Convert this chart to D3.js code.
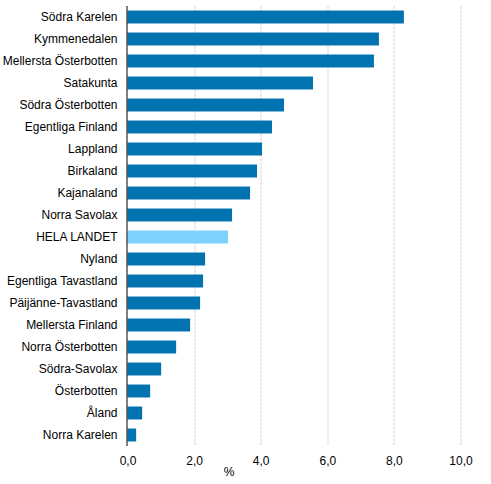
<!DOCTYPE html>
<html>
<head>
<meta charset="utf-8">
<script src="https://cdn.jsdelivr.net/npm/d3@7"></script>
<style>
  body { margin: 0; background: #fff; }
  text { font-family: "Liberation Sans", Arial, sans-serif; fill: #000; }
</style>
</head>
<body>
<svg id="chart" width="491" height="484"></svg>
<script>
// regions, top to bottom
var regions = [
    "Södra Karelen", "Kymmenedalen", "Mellersta Österbotten", "Satakunta",
    "Södra Österbotten", "Egentliga Finland", "Lappland", "Birkaland",
    "Kajanaland", "Norra Savolax", "HELA LANDET", "Nyland",
    "Egentliga Tavastland", "Päijänne-Tavastland", "Mellersta Finland",
    "Norra Österbotten", "Södra-Savolax", "Österbotten", "Åland", "Norra Karelen"
];
// share in %
var values = [
    8.3, 7.55, 7.4, 5.57, 4.7, 4.34, 4.04, 3.89, 3.68, 3.14,
    3.02, 2.33, 2.27, 2.18, 1.88, 1.46, 1.01, 0.68, 0.44, 0.26
];
var xTicks = [0, 2, 4, 6, 8, 10];
var wholeCountry = "HELA LANDET";

var svg = d3.select("#chart");
var margin = {left: 127.5, right: 30.5, top: 6, bottom: 38};
var width = 491 - margin.left - margin.right;
var height = 484 - margin.top - margin.bottom;

var x = d3.scaleLinear().domain([0, 10]).range([0, width]);
var y = d3.scaleBand().domain(regions).range([0, height]).paddingInner(0.41).paddingOuter(0.205);

var g = svg.append("g").attr("transform", "translate(" + margin.left + "," + margin.top + ")");

// gridlines
g.selectAll("line.grid")
    .data(xTicks.slice(1))
    .enter()
    .append("line")
    .attr("class", "grid")
    .attr("x1", function(d) { return Math.round(x(d)) + 0.5; })
    .attr("x2", function(d) { return Math.round(x(d)) + 0.5; })
    .attr("y1", 0)
    .attr("y2", height)
    .style("stroke", "#d4d4d4")
    .style("stroke-dasharray", "3,1");

// bars
g.selectAll("rect")
    .data(regions)
    .enter()
    .append("rect")
    .attr("x", 0)
    .attr("y", function(d) { return y(d); })
    .attr("width", function(d, i) { return x(values[i]); })
    .attr("height", y.bandwidth())
    .attr("fill", function(d) { return d == wholeCountry ? "#7dd2fc" : "#0073b0"; });

// y axis
var yAxis = g.append("g").call(d3.axisLeft(y).tickSize(0).tickPadding(10));
yAxis.select(".domain").remove();
yAxis.selectAll("text").style("font-size", "12px");
g.append("line")
    .attr("x1", -0.5).attr("x2", -0.5)
    .attr("y1", 0).attr("y2", height)
    .style("stroke", "#000");

// x axis
var xAxis = g.append("g")
    .attr("transform", "translate(0," + height + ")")
    .call(d3.axisBottom(x).tickValues(xTicks).tickSize(0).tickPadding(10)
        .tickFormat(function(d) { return d3.format(".1f")(d).replace(".", ","); }));
xAxis.select(".domain").remove();
xAxis.selectAll("text").style("font-size", "12px");

svg.append("text")
    .attr("x", 229)
    .attr("y", 476)
    .attr("text-anchor", "middle")
    .style("font-size", "12px")
    .text("%");
</script>
</body>
</html>
